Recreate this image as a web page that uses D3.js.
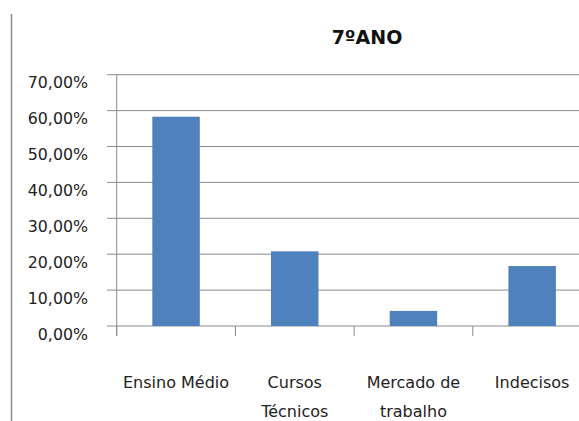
<!DOCTYPE html>
<html><head><meta charset="utf-8">
<script src="https://cdn.jsdelivr.net/npm/d3@7"></script>
<style>body{margin:0;background:#fff;}svg{display:block;}</style>
</head><body>
<script>
const categories = [["Ensino Médio"], ["Cursos", "Técnicos"], ["Mercado de", "trabalho"], ["Indecisos"]];
const values = [0.583, 0.208, 0.042, 0.167];
const yTicks = [0, 0.1, 0.2, 0.3, 0.4, 0.5, 0.6, 0.7];
const title = "7ºANO";

const W = 579, H = 421;
const svg = d3.select("body").append("svg").attr("width", W).attr("height", H);
const font = "DejaVu Sans, Verdana, sans-serif";

const x0 = 116.7, bw = 118.7;
const x = d3.scaleBand().domain(d3.range(categories.length)).range([x0, x0 + bw * categories.length]).paddingInner(0.6).paddingOuter(0.3);
const y = d3.scaleLinear().domain([0, 0.7]).range([326, 74.7]);

// left border line
svg.append("line").attr("x1", 11.5).attr("x2", 11.5).attr("y1", 14).attr("y2", H).attr("stroke", "#8c8c8c").attr("stroke-width", 1.5);

// gridlines
svg.append("g").selectAll("line").data(yTicks).join("line")
  .attr("x1", 107).attr("x2", W).attr("y1", d => y(d)).attr("y2", d => y(d))
  .attr("stroke", "#8c8c8c").attr("stroke-width", 1);

// y axis line
svg.append("line").attr("x1", x0).attr("x2", x0).attr("y1", y(0.7)).attr("y2", 336).attr("stroke", "#8c8c8c");

// y labels
const fmt = d => d3.format(".2f")(d * 100).replace(".", ",") + "%";
svg.append("g").selectAll("text").data(yTicks).join("text")
  .attr("x", 88).attr("y", d => y(d) + 8).attr("dy", "0.35em")
  .attr("text-anchor", "end").attr("font-family", font).attr("font-size", 15.8).attr("fill", "#222")
  .text(fmt);

// bars
svg.append("g").selectAll("rect").data(values).join("rect")
  .attr("x", (d, i) => x(i)).attr("width", x.bandwidth())
  .attr("y", d => y(d)).attr("height", d => y(0) - y(d))
  .attr("fill", "#4f81bd");

// category ticks
svg.append("g").selectAll("line").data(d3.range(categories.length + 1)).join("line")
  .attr("x1", i => x0 + i * bw).attr("x2", i => x0 + i * bw)
  .attr("y1", 326).attr("y2", 336).attr("stroke", "#8c8c8c");

// category labels
const cl = svg.append("g").selectAll("text").data(categories).join("text")
  .attr("text-anchor", "middle").attr("font-family", font).attr("font-size", 16).attr("fill", "#222");
cl.each(function(lines, i) {
  const t = d3.select(this);
  lines.forEach((ln, k) => {
    t.append("tspan").attr("x", x0 + bw * (i + 0.5)).attr("y", 382 + k * 29.5).attr("dy", "0.35em").text(ln);
  });
});

// title
svg.append("text").attr("x", 367).attr("y", 37).attr("dy", "0.35em").attr("text-anchor", "middle")
  .attr("font-family", font).attr("font-weight", "bold").attr("font-size", 19).attr("fill", "#111").text(title);
</script>
</body></html>
